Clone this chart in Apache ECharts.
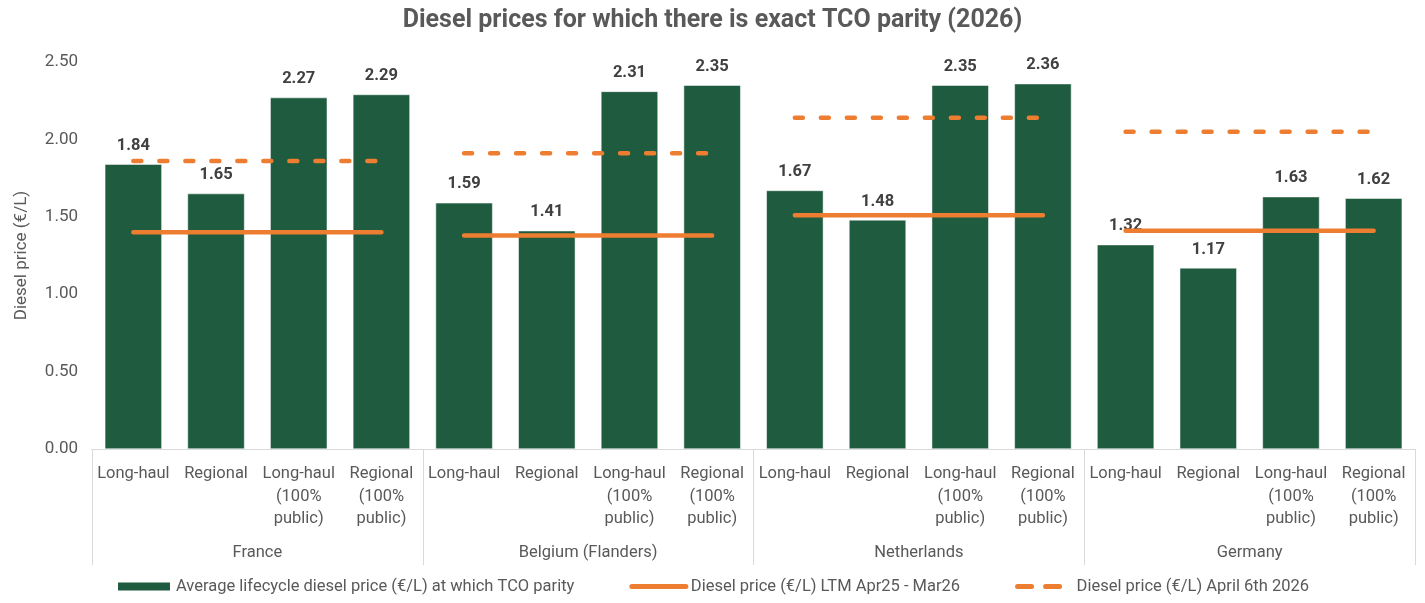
<!DOCTYPE html>
<html>
<head>
<meta charset="utf-8">
<script src="https://cdn.jsdelivr.net/npm/echarts@6/dist/echarts.min.js"></script>
<style>
html, body { margin: 0; padding: 0; background: #fff; }
#main { width: 1425px; height: 603px; }
</style>
</head>
<body>
<div id="main"></div>
<script>
var countries = ['France', 'Belgium (Flanders)', 'Netherlands', 'Germany'];
var segments = ['Long-haul', 'Regional', 'Long-haul\n(100%\npublic)', 'Regional\n(100%\npublic)'];
var parityPrice = [1.84, 1.65, 2.27, 2.29, 1.59, 1.41, 2.31, 2.35, 1.67, 1.48, 2.35, 2.36, 1.32, 1.17, 1.63, 1.62];
var ltmPrice = [1.40, 1.38, 1.51, 1.41];
var aprilPrice = [1.86, 1.91, 2.14, 2.05];

var barName = 'Average lifecycle diesel price (€/L) at which TCO parity';
var ltmName = 'Diesel price (€/L) LTM Apr25 - Mar26';
var aprilName = 'Diesel price (€/L) April 6th 2026';

var font = "Roboto, 'Liberation Sans', sans-serif";
var green = '#1e5b3f';
var orange = '#ed7d31';

var categories = [];
countries.forEach(function () {
	segments.forEach(function (s) { categories.push(s); });
});

// one line piece per country, spanning its four bars
var groupLine = function (values, idx) {
	var d = [];
	for (var i = 0; i < categories.length; i++) {
		d.push(Math.floor(i / segments.length) === idx ? values[idx] : null);
	}
	return d;
};

var series = [{
	name: barName,
	type: 'bar',
	xAxisIndex: 0,
	barCategoryGap: '31%',
	itemStyle: { color: green, borderColor: '#ffffff', borderWidth: 0.5 },
	label: {
		show: true,
		position: 'top',
		distance: 10,
		fontFamily: font,
		fontWeight: 'bold',
		fontSize: 16.5,
		color: '#404040',
		formatter: function (p) { return p.value.toFixed(2); }
	},
	data: parityPrice,
	z: 2
}];

countries.forEach(function (c, idx) {
	series.push({
		name: ltmName,
		type: 'line',
		xAxisIndex: 0,
		symbol: 'none',
		lineStyle: { color: orange, width: 4.5, cap: 'round' },
		itemStyle: { color: orange },
		data: groupLine(ltmPrice, idx),
		z: 3
	});
	series.push({
		name: aprilName,
		type: 'line',
		xAxisIndex: 0,
		symbol: 'none',
		lineStyle: { color: orange, width: 4.5, type: [8, 18], cap: 'round' },
		itemStyle: { color: orange },
		data: groupLine(aprilPrice, idx),
		z: 3
	});
});

var option = {
	animation: false,
	backgroundColor: '#ffffff',
	title: {
		text: 'Diesel prices for which there is exact TCO parity (2026)',
		left: 'center',
		top: 3,
		textStyle: { fontFamily: font, fontSize: 25, fontWeight: 'bold', color: '#595959' }
	},
	legend: {
		bottom: 3,
		left: 'center',
		itemWidth: 54,
		itemHeight: 10,
		itemGap: 55,
		textStyle: { fontFamily: font, fontSize: 16.5, color: '#595959' },
		data: [
			{ name: barName, icon: 'rect' },
			{ name: ltmName, itemStyle: { opacity: 0 },
				lineStyle: { color: orange, width: 5, cap: 'round' } },
			{ name: aprilName, itemStyle: { opacity: 0 },
				lineStyle: { color: orange, width: 5, type: [14, 14], cap: 'round' } }
		]
	},
	grid: { left: 92, right: 10, top: 62, bottom: 154, containLabel: false },
	xAxis: [{
		type: 'category',
		data: categories,
		axisLine: { lineStyle: { color: '#d9d9d9' } },
		axisTick: { show: false },
		axisLabel: {
			interval: 0,
			margin: 14,
			fontFamily: font,
			fontSize: 16.5,
			lineHeight: 22.5,
			color: '#595959'
		}
	}, {
		type: 'category',
		position: 'bottom',
		data: countries,
		axisLine: { lineStyle: { color: '#d9d9d9' } },
		axisTick: { show: true, length: 116, lineStyle: { color: '#d9d9d9' } },
		axisLabel: {
			interval: 0,
			margin: 95,
			fontFamily: font,
			fontSize: 16.5,
			color: '#595959'
		}
	}],
	yAxis: {
		type: 'value',
		min: 0,
		max: 2.5,
		interval: 0.5,
		name: 'Diesel price (€/L)',
		nameLocation: 'middle',
		nameGap: 62,
		nameTextStyle: { fontFamily: font, fontSize: 17, color: '#595959' },
		axisLine: { show: false },
		axisTick: { show: false },
		splitLine: { show: false },
		axisLabel: {
			margin: 14,
			fontFamily: font,
			fontSize: 17,
			color: '#595959',
			formatter: function (v) { return v.toFixed(2); }
		}
	},
	series: series
};

echarts.init(document.getElementById('main')).setOption(option);
</script>
</body>
</html>
